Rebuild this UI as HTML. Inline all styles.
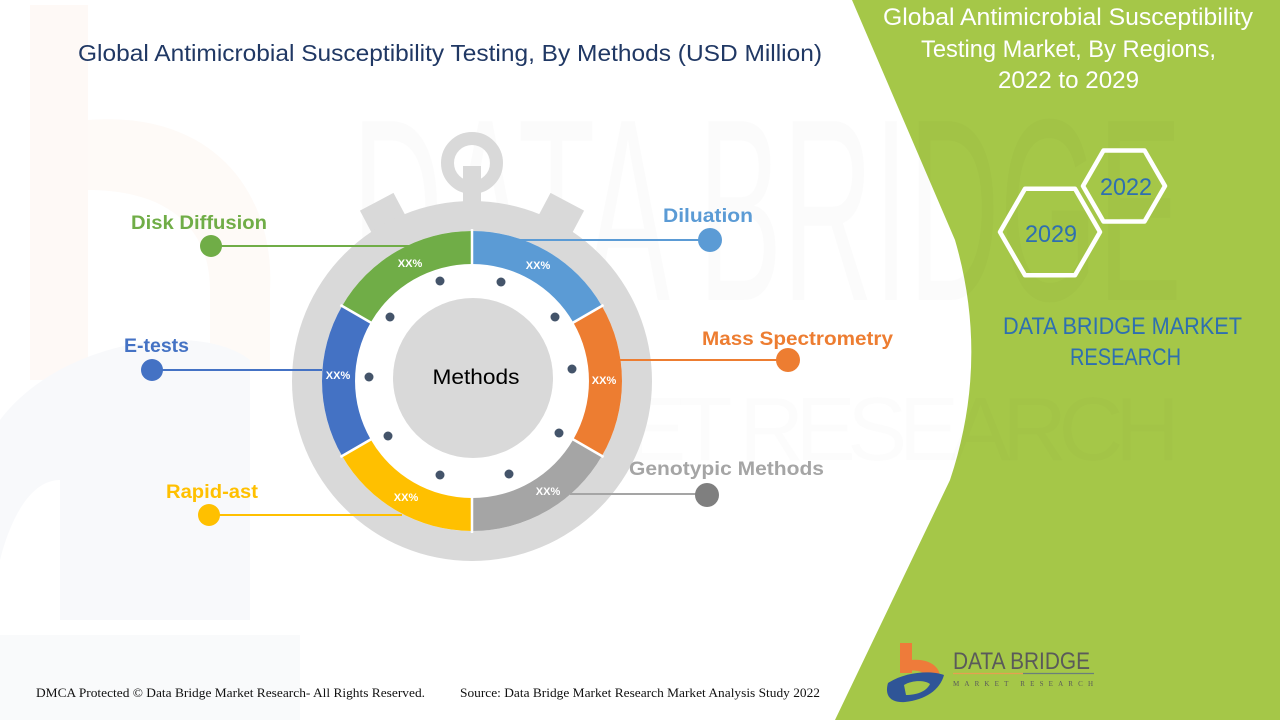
<!DOCTYPE html>
<html><head><meta charset="utf-8"><style>
html,body{margin:0;padding:0;background:#fff;}
svg{display:block;}
</style></head><body>
<svg width="1280" height="720" viewBox="0 0 1280 720" xmlns="http://www.w3.org/2000/svg">
<rect width="1280" height="720" fill="#ffffff"/>
<!-- faint background logo watermark left -->
<rect x="30" y="5" width="58" height="375" fill="#fef9f6"/>
<path d="M88 120 C 220 110, 275 200, 270 290 L 270 370 L 210 370 L 210 290 C 210 230, 170 190, 88 190 Z" fill="#fefaf7"/>
<path d="M0 420 C 60 340, 200 320, 250 360 L 250 620 L 60 620 L 60 480 C 30 480, 10 520, 0 560 Z" fill="#f8f9fb"/>
<rect x="0" y="635" width="300" height="85" fill="#f9fafb"/>
<!-- green panel -->
<path d="M852,0 L955,240 Q990,360 950,480 L835,720 L1280,720 L1280,0 Z" fill="#a5c748"/>
<!-- big watermark text -->
<text x="352" y="300" font-family="Liberation Sans, sans-serif" font-size="260" fill="#000" fill-opacity="0.015" textLength="830" lengthAdjust="spacingAndGlyphs">DATA BRIDGE</text>
<text x="400" y="460" font-family="Liberation Sans, sans-serif" font-size="90" fill="#000" fill-opacity="0.012" textLength="780" lengthAdjust="spacing">MARKET RESEARCH</text>

<!-- title -->
<text x="78" y="61" font-family="Liberation Sans, sans-serif" font-size="23" fill="#203864" textLength="744" lengthAdjust="spacingAndGlyphs">Global Antimicrobial Susceptibility Testing, By Methods (USD Million)</text>

<!-- stopwatch body -->
<g fill="#d9d9d9">
  <g transform="translate(472,381) rotate(-28)"><rect x="-19" y="-203" width="38" height="60"/></g>
  <g transform="translate(472,381) rotate(28)"><rect x="-19" y="-203" width="38" height="60"/></g>
  <rect x="463" y="166" width="18" height="50"/>
  <circle cx="472" cy="381" r="180"/>
</g>
<circle cx="472" cy="163" r="24.5" fill="none" stroke="#d9d9d9" stroke-width="13"/>
<circle cx="472" cy="381" r="150" fill="#ffffff"/>

<!-- ring segments -->
<path d="M472,231 A150,150 0 0 1 601.9,306 L573.3,322.5 A117,117 0 0 0 472,264 Z" fill="#5b9bd5"/>
<path d="M601.9,306 A150,150 0 0 1 601.9,456 L573.3,439.5 A117,117 0 0 0 573.3,322.5 Z" fill="#ed7d31"/>
<path d="M601.9,456 A150,150 0 0 1 472,531 L472,498 A117,117 0 0 0 573.3,439.5 Z" fill="#a5a5a5"/>
<path d="M472,531 A150,150 0 0 1 342.1,456 L370.7,439.5 A117,117 0 0 0 472,498 Z" fill="#ffc000"/>
<path d="M342.1,456 A150,150 0 0 1 342.1,306 L370.7,322.5 A117,117 0 0 0 370.7,439.5 Z" fill="#4472c4"/>
<path d="M342.1,306 A150,150 0 0 1 472,231 L472,264 A117,117 0 0 0 370.7,322.5 Z" fill="#70ad47"/>
<g stroke="#ffffff" stroke-width="2.5">
  <line x1="472" y1="229" x2="472" y2="266"/>
  <line x1="603.6" y1="305" x2="571.6" y2="323.5"/>
  <line x1="603.6" y1="457" x2="571.6" y2="438.5"/>
  <line x1="472" y1="533" x2="472" y2="496"/>
  <line x1="340.4" y1="457" x2="372.4" y2="438.5"/>
  <line x1="340.4" y1="305" x2="372.4" y2="323.5"/>
</g>

<!-- inner circle -->
<circle cx="473" cy="378" r="80" fill="#d9d9d9"/>
<text x="476" y="384" text-anchor="middle" font-family="Liberation Sans, sans-serif" font-size="21" fill="#000" textLength="87" lengthAdjust="spacingAndGlyphs">Methods</text>

<!-- dots -->
<g fill="#44546a">
  <circle cx="440" cy="281" r="4.5"/>
  <circle cx="501" cy="282" r="4.5"/>
  <circle cx="555" cy="317" r="4.5"/>
  <circle cx="572" cy="369" r="4.5"/>
  <circle cx="559" cy="433" r="4.5"/>
  <circle cx="509" cy="474" r="4.5"/>
  <circle cx="440" cy="475" r="4.5"/>
  <circle cx="388" cy="436" r="4.5"/>
  <circle cx="369" cy="377" r="4.5"/>
  <circle cx="390" cy="317" r="4.5"/>
</g>

<!-- XX% labels -->
<g font-family="Liberation Sans, sans-serif" font-size="11" font-weight="bold" fill="#ffffff" text-anchor="middle">
  <text x="538" y="269">XX%</text>
  <text x="604" y="384">XX%</text>
  <text x="548" y="495">XX%</text>
  <text x="406" y="501">XX%</text>
  <text x="338" y="379">XX%</text>
  <text x="410" y="267">XX%</text>
</g>

<!-- leader lines -->
<g stroke-width="2">
  <line x1="211" y1="246" x2="410" y2="246" stroke="#70ad47"/>
  <line x1="152" y1="370" x2="322" y2="370" stroke="#4472c4"/>
  <line x1="209" y1="515" x2="402" y2="515" stroke="#ffc000"/>
  <line x1="520" y1="240" x2="709" y2="240" stroke="#5b9bd5"/>
  <line x1="620" y1="360" x2="788" y2="360" stroke="#ed7d31"/>
  <line x1="570" y1="494" x2="707" y2="494" stroke="#a5a5a5"/>
</g>
<circle cx="211" cy="246" r="11" fill="#70ad47"/>
<circle cx="152" cy="370" r="11" fill="#4472c4"/>
<circle cx="209" cy="515" r="11" fill="#ffc000"/>
<circle cx="710" cy="240" r="12" fill="#5b9bd5"/>
<circle cx="788" cy="360" r="12" fill="#ed7d31"/>
<circle cx="707" cy="495" r="12" fill="#7f7f7f"/>

<g font-family="Liberation Sans, sans-serif" font-size="19" font-weight="bold">
  <text x="131" y="229" fill="#70ad47" textLength="136" lengthAdjust="spacingAndGlyphs">Disk Diffusion</text>
  <text x="124" y="352" fill="#4472c4" textLength="65" lengthAdjust="spacingAndGlyphs">E-tests</text>
  <text x="166" y="498" fill="#ffc000" textLength="92" lengthAdjust="spacingAndGlyphs">Rapid-ast</text>
  <text x="663" y="222" fill="#5b9bd5" textLength="90" lengthAdjust="spacingAndGlyphs">Diluation</text>
  <text x="702" y="345" fill="#ed7d31" textLength="191" lengthAdjust="spacingAndGlyphs">Mass Spectrometry</text>
  <text x="629" y="475" fill="#a5a5a5" textLength="195" lengthAdjust="spacingAndGlyphs">Genotypic Methods</text>
</g>

<!-- right panel text -->
<g font-family="Liberation Sans, sans-serif" font-size="24" fill="#ffffff">
  <text x="883" y="25" textLength="370" lengthAdjust="spacingAndGlyphs">Global Antimicrobial Susceptibility</text>
  <text x="921" y="57" textLength="295" lengthAdjust="spacingAndGlyphs">Testing Market, By Regions,</text>
  <text x="998" y="88" textLength="141" lengthAdjust="spacingAndGlyphs">2022 to 2029</text>
</g>

<!-- hexagons -->
<g fill="none" stroke="#ffffff" stroke-width="4.5" stroke-linejoin="round">
  <polygon points="1100,232 1075,275.3 1025,275.3 1000,232 1025,188.7 1075,188.7"/>
  <polygon points="1165,186 1144.5,221.5 1103.5,221.5 1083,186 1103.5,150.5 1144.5,150.5"/>
</g>
<g font-family="Liberation Sans, sans-serif" font-size="24" fill="#2e6fb0">
  <text x="1025" y="242" textLength="52" lengthAdjust="spacingAndGlyphs">2029</text>
  <text x="1100" y="195" textLength="52" lengthAdjust="spacingAndGlyphs">2022</text>
  <text x="1003" y="334" textLength="239" lengthAdjust="spacingAndGlyphs">DATA BRIDGE MARKET</text>
  <text x="1070" y="365" textLength="111" lengthAdjust="spacingAndGlyphs">RESEARCH</text>
</g>

<!-- logo -->
<rect x="900" y="643" width="12" height="30" fill="#ee7b3a"/>
<path d="M900,662 C925,655 942,665 940,680 L928,682 C928,672 918,668 900,672 Z" fill="#ee7b3a"/>
<path d="M888,683 C905,672 930,670 944,675 C940,690 925,700 905,702 C892,703 884,697 888,683 Z" fill="#2f5597"/>
<path d="M904,685 C912,680 925,680 930,684 C926,692 916,695 906,695 Z" fill="#a5c748"/>
<text x="953" y="669" font-family="Liberation Sans, sans-serif" font-size="24" fill="#5a5a5a" textLength="137" lengthAdjust="spacingAndGlyphs">DATA BRIDGE</text>
<line x1="953" y1="673.5" x2="1023" y2="673.5" stroke="#e6a050" stroke-width="1.2"/>
<line x1="1023" y1="673.5" x2="1094" y2="673.5" stroke="#6a7f7a" stroke-width="1.2"/>
<text x="953" y="686" font-family="Liberation Serif, serif" font-size="7" fill="#5a5a5a" textLength="140" lengthAdjust="spacing">MARKET   RESEARCH</text>

<!-- footer -->
<g font-family="Liberation Serif, serif" font-size="12.5" fill="#111">
  <text x="36" y="697" textLength="389" lengthAdjust="spacingAndGlyphs">DMCA Protected © Data Bridge Market Research- All Rights Reserved.</text>
  <text x="460" y="697" textLength="360" lengthAdjust="spacingAndGlyphs">Source: Data Bridge Market Research Market Analysis Study 2022</text>
</g>
</svg>
</body></html>
